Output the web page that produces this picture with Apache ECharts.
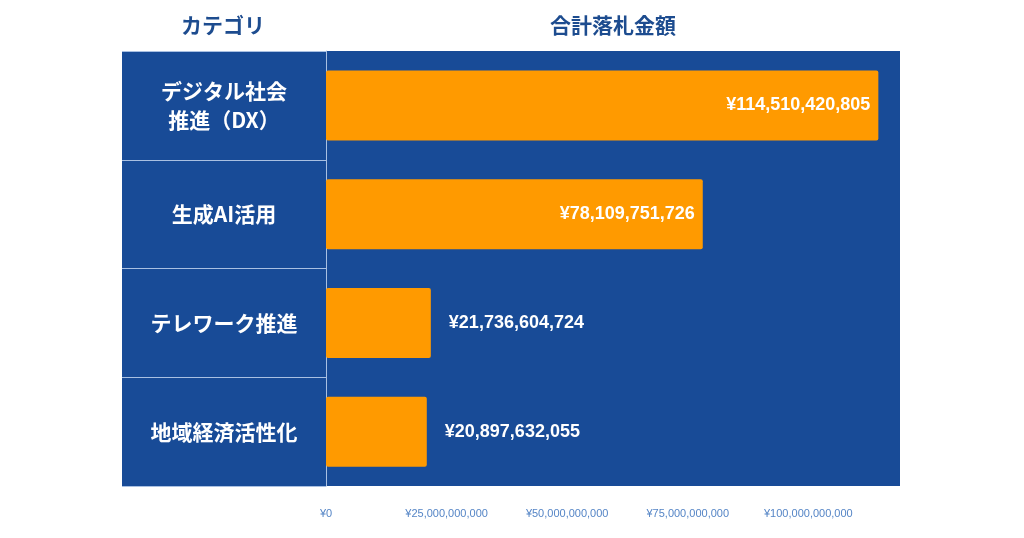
<!DOCTYPE html>
<html><head><meta charset="utf-8">
<script src="https://cdn.jsdelivr.net/npm/echarts@6/dist/echarts.min.js"></script>
<style>html,body{margin:0;padding:0;background:#fff}#c{width:1024px;height:538px}</style>
</head><body><div id="c"></div>
<script>
const categories = ['デジタル社会\n推進（DX）', '生成AI活用', 'テレワーク推進', '地域経済活性化'];
const amounts = [114510420805, 78109751726, 21736604724, 20897632055];
const insideLabel = [true, true, false, false];
const headers = ['カテゴリ', '合計落札金額'];

const FONT = '"Liberation Sans", "Noto Sans CJK JP", sans-serif';
const JP = '"Noto Sans CJK JP", sans-serif';
const fmt = v => '¥' + Math.round(v).toLocaleString('en-US');

const chart = echarts.init(document.getElementById('c'));
chart.setOption({
  animation: false,
  backgroundColor: '#ffffff',
  graphic: [
    { type: 'rect', z: -10, shape: { x: 122, y: 51, width: 204, height: 435 }, style: { fill: '#184b97' } },
    { type: 'text', x: 223, y: 25, style: { text: headers[0], fill: '#1d4c8f', font: 'bold 21px ' + JP, align: 'center', verticalAlign: 'middle' } },
    { type: 'text', x: 613, y: 25, style: { text: headers[1], fill: '#1d4c8f', font: 'bold 21px ' + JP, align: 'center', verticalAlign: 'middle' } }
  ],
  grid: { left: 326, right: 124, top: 51, bottom: 52, show: true, backgroundColor: '#184b97', borderWidth: 0 },
  xAxis: {
    type: 'value', min: 0, max: 119000000000, interval: 25000000000,
    axisLine: { show: false }, axisTick: { show: false }, splitLine: { show: false },
    axisLabel: { color: '#5585c6', fontSize: 11, fontFamily: FONT, margin: 22, showMaxLabel: false, formatter: fmt }
  },
  yAxis: {
    type: 'category', inverse: true, data: categories,
    axisLine: { show: true, lineStyle: { color: '#a9c0e2', width: 1 } },
    axisTick: { show: true, length: 204, lineStyle: { color: '#a9c0e2', width: 1 } },
    axisLabel: { color: '#ffffff', fontSize: 21, fontWeight: 'bold', fontFamily: JP, margin: 102, align: 'center', lineHeight: 29 }
  },
  series: [{
    type: 'bar', barWidth: 70,
    itemStyle: { color: '#ff9a00', borderRadius: 2 },
    data: amounts.map((v, i) => ({
      value: v,
      label: insideLabel[i]
        ? { show: true, position: 'insideRight', distance: 8 }
        : { show: true, position: 'right', distance: 18 }
    })),
    label: { color: '#ffffff', fontSize: 18, fontWeight: 'bold', fontFamily: FONT, formatter: p => fmt(p.value) }
  }]
});
</script></body></html>
